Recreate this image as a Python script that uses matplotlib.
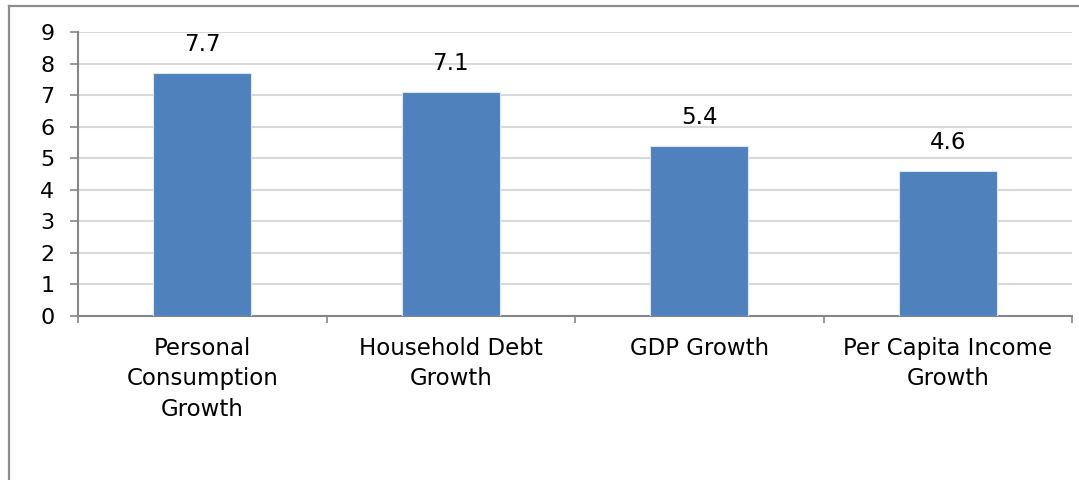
import matplotlib.pyplot as plt
import numpy as np
from matplotlib.lines import Line2D

categories = ['Personal\nConsumption\nGrowth', 'Household Debt\nGrowth', 'GDP Growth', 'Per Capita Income\nGrowth']
values = [7.7, 7.1, 5.4, 4.6]
labels = ['7.7', '7.1', '5.4', '4.6']

plt.rcParams['font.family'] = ['DejaVu Sans']

fig = plt.figure(figsize=(10.79, 4.80), dpi=100)
ax = fig.add_axes([0.0723, 0.3417, 0.9213, 0.5916])

# chart border: only left and top edges are inside the crop
bx, by = 8.5 / 1079, 1 - 5.5 / 480
fig.lines.append(Line2D([bx, bx], [-0.05, by], transform=fig.transFigure, color='#8c8c8c', linewidth=1.6))
fig.lines.append(Line2D([bx, 1.05], [by, by], transform=fig.transFigure, color='#8c8c8c', linewidth=1.6))

x = np.arange(len(categories))
ax.bar(x, values, width=0.395, color='#4F81BD', edgecolor='#dce6f1', linewidth=0.8, zorder=3)

for xi, v, lab in zip(x, values, labels):
    ax.annotate(lab, (xi, v), xytext=(0, 12), textcoords='offset points',
                ha='center', va='bottom', fontsize=16.5)

ax.set_xlim(-0.5, len(categories) - 0.5)
ax.set_ylim(0, 9)
ax.set_yticks(range(10))
ax.tick_params(axis='y', labelsize=16, length=6, width=1.2, color='#868686', pad=11)
ax.yaxis.grid(True, color='#d9d9d9', linewidth=1.5, zorder=0)

ax.set_xticks(x)
ax.set_xticklabels(categories, fontsize=16.5, linespacing=1.42)
ax.tick_params(axis='x', length=0, pad=15)
ax.set_xticks(np.arange(-0.5, len(categories)), minor=True)
ax.tick_params(axis='x', which='minor', length=5, width=1.2, color='#868686')

for s in ['top', 'right']:
    ax.spines[s].set_visible(False)
for s in ['left', 'bottom']:
    ax.spines[s].set_color('#868686')
    ax.spines[s].set_linewidth(1.5)

fig.savefig('out.png', dpi=100)
